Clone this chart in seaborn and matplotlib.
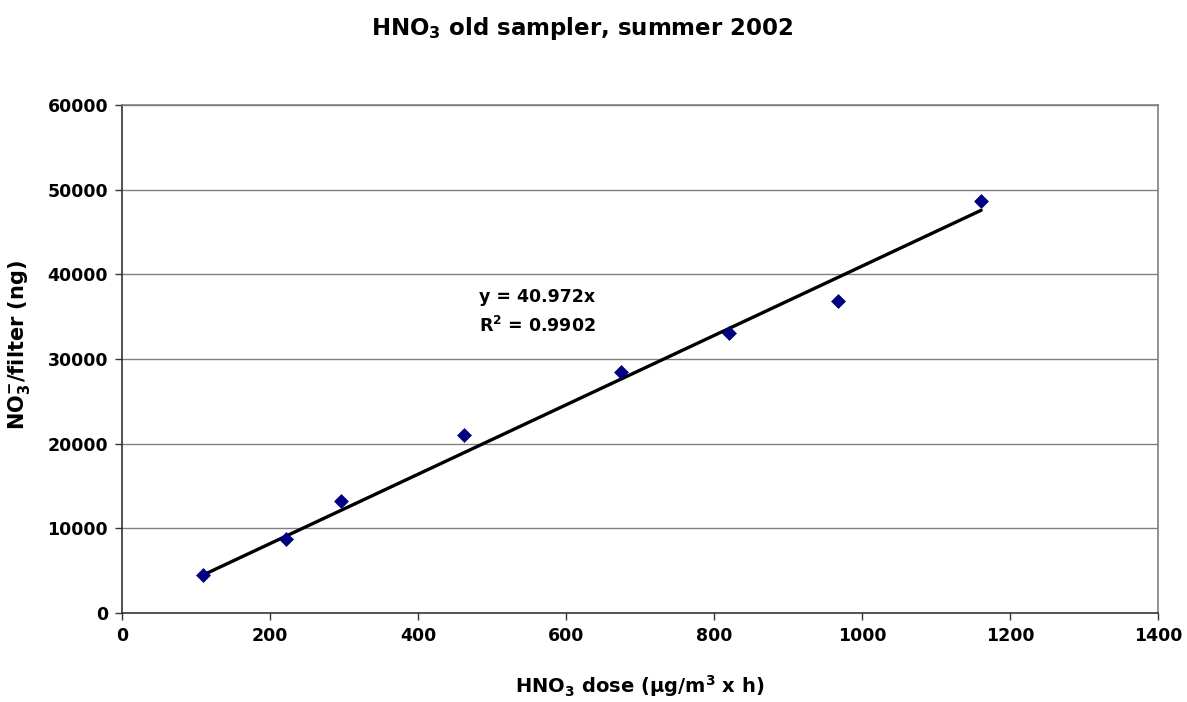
import matplotlib
matplotlib.use("Agg")
import matplotlib.pyplot as plt
import seaborn as sns
import numpy as np
import pandas as pd

# Data
dose = [109.5, 221.6, 296, 462, 674, 820, 967.6, 1161]
nitrate = [4490, 8740, 13230, 21020, 28460, 33070, 36850, 48660]
slope = 40.972
r2 = 0.9902
x_ticks = [0, 200, 400, 600, 800, 1000, 1200, 1400]
y_ticks = [0, 10000, 20000, 30000, 40000, 50000, 60000]

sns.set_theme(style="white")
plt.rcParams['font.family'] = ['DejaVu Sans']
plt.rcParams['font.weight'] = 'bold'
plt.rcParams['text.color'] = 'black'
plt.rcParams['axes.labelcolor'] = 'black'
plt.rcParams['xtick.color'] = 'black'
plt.rcParams['ytick.color'] = 'black'
plt.rcParams['mathtext.fontset'] = 'custom'
plt.rcParams['mathtext.rm'] = 'DejaVu Sans:bold'
plt.rcParams['mathtext.bf'] = 'DejaVu Sans:bold'
plt.rcParams['mathtext.it'] = 'DejaVu Sans:bold'
plt.rcParams['mathtext.default'] = 'bf'

df = pd.DataFrame({"dose": dose, "nitrate": nitrate})
xfit = np.array([min(dose), max(dose)])
fit = pd.DataFrame({"dose": xfit, "nitrate": slope * xfit})

fig = plt.figure(figsize=(11.87, 7.02), dpi=100)
ax = fig.add_axes([0.1028, 0.1268, 0.8728, 0.7236])

for yv in y_ticks[1:]:
    ax.axhline(yv, color="#808080", lw=1.0, zorder=0)

sns.lineplot(data=fit, x="dose", y="nitrate", ax=ax, color="black", lw=2.4, zorder=2)
sns.scatterplot(data=df, x="dose", y="nitrate", ax=ax, marker="D", color="#000080",
                s=50, edgecolor="#000080", linewidth=0.5, zorder=3)

ax.set_xlim(0, 1400)
ax.set_ylim(0, 60000)
ax.set_xticks(x_ticks)
ax.set_yticks(y_ticks)
ax.set_xticklabels([str(v) for v in x_ticks], fontsize=12.5, fontweight="bold")
ax.set_yticklabels([str(v) for v in y_ticks], fontsize=12.5, fontweight="bold")
ax.tick_params(axis="both", direction="out", length=5, width=1, color="#333333",
               bottom=True, left=True, pad=5, labelcolor="black")

for side in ["left", "bottom"]:
    ax.spines[side].set_color("#333333")
    ax.spines[side].set_linewidth(1.2)
for side in ["top", "right"]:
    ax.spines[side].set_color("#808080")
    ax.spines[side].set_linewidth(1.2)

ax.set_xlabel("HNO$_3$ dose (μg/m$^3$ x h)", fontsize=14, fontweight="bold", labelpad=20)
ax.set_ylabel("NO$_3^{-}$/filter (ng)", fontsize=15, fontweight="bold")
ax.yaxis.set_label_coords(-0.087, 0.528)
fig.suptitle("HNO$_3$ old sampler, summer 2002", fontsize=16.5, fontweight="bold",
             x=0.49, y=0.978)

ax.text(561, 37300, f"y = {slope}x", ha="center", va="center", fontsize=12.5, fontweight="bold")
ax.text(561, 33900, f"R$^2$ = {r2}", ha="center", va="center", fontsize=12.5, fontweight="bold")

fig.savefig("out.png", dpi=100, facecolor="white")
